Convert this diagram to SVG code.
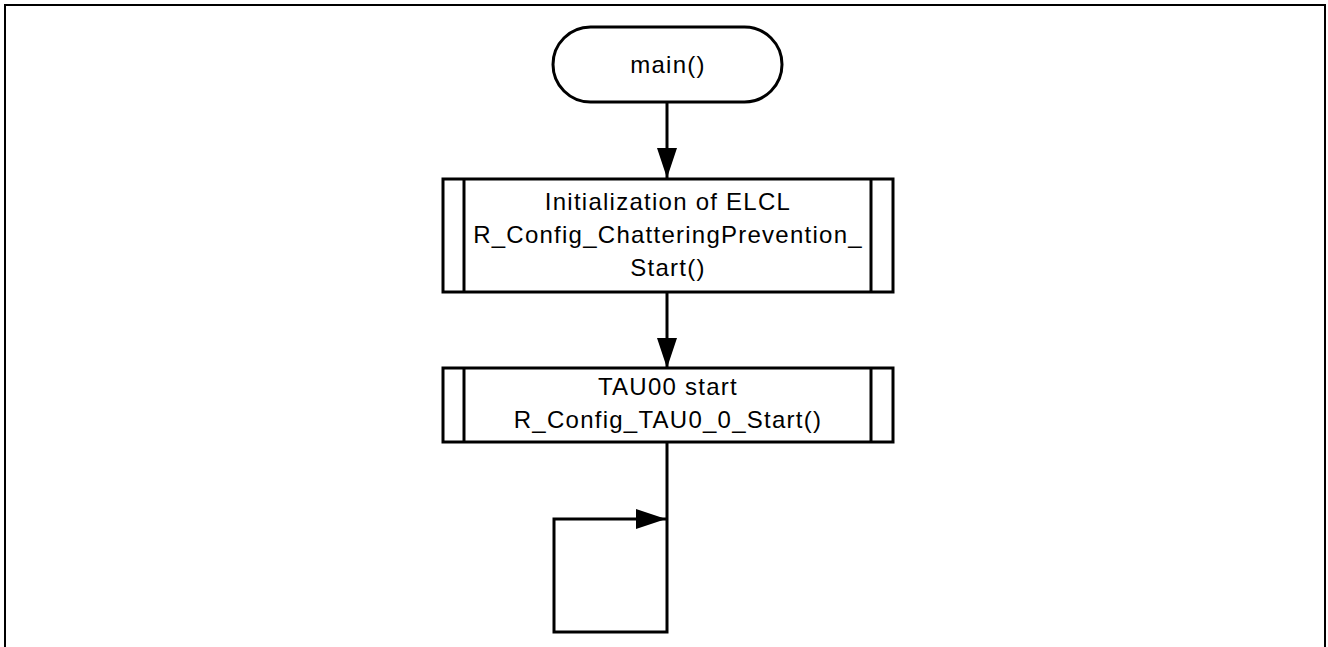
<svg xmlns="http://www.w3.org/2000/svg" width="1328" height="647" viewBox="0 0 1328 647">
<style>
.frame{fill:none;stroke:#000;stroke-width:2}
.shape{fill:#fff;stroke:#000;stroke-width:3}
.inner{stroke:#000;stroke-width:3}
.conn{fill:none;stroke:#000;stroke-width:3}
.lbl{font-family:"Liberation Sans",Arial,sans-serif;font-size:24px;letter-spacing:1.25px;fill:#000;text-anchor:middle}
</style>
<defs>
<marker id="arr" markerUnits="userSpaceOnUse" markerWidth="32" markerHeight="22" refX="30" refY="10" orient="auto">
<path d="M0,0 L30,10 L0,20 Z" fill="#000"/>
</marker>
</defs>
<rect width="1328" height="647" fill="#fff"/>
<path class="frame" d="M5,650 V5 H1325 V650"/>
<g id="connectors">
<line class="conn" x1="667" y1="102" x2="667" y2="178" marker-end="url(#arr)"/>
<line class="conn" x1="667" y1="292" x2="667" y2="368" marker-end="url(#arr)"/>
<path class="conn" d="M667,442 V632 H554 V519 H666" marker-end="url(#arr)"/>
</g>
<g id="node-main">
<rect class="shape" x="553" y="27" width="229" height="75" rx="37.5" ry="37.5"/>
<text class="lbl" x="668" y="73">main()</text>
</g>
<g id="node-elcl">
<rect class="shape" x="443" y="179" width="450" height="113"/>
<line class="inner" x1="464" y1="179" x2="464" y2="292"/>
<line class="inner" x1="871" y1="179" x2="871" y2="292"/>
<text class="lbl" x="668" y="210">Initialization of ELCL</text>
<text class="lbl" x="668" y="243">R_Config_ChatteringPrevention_</text>
<text class="lbl" x="668" y="276">Start()</text>
</g>
<g id="node-tau">
<rect class="shape" x="443" y="368" width="450" height="74"/>
<line class="inner" x1="464" y1="368" x2="464" y2="442"/>
<line class="inner" x1="871" y1="368" x2="871" y2="442"/>
<text class="lbl" x="668" y="395">TAU00 start</text>
<text class="lbl" x="668" y="428">R_Config_TAU0_0_Start()</text>
</g>
</svg>
